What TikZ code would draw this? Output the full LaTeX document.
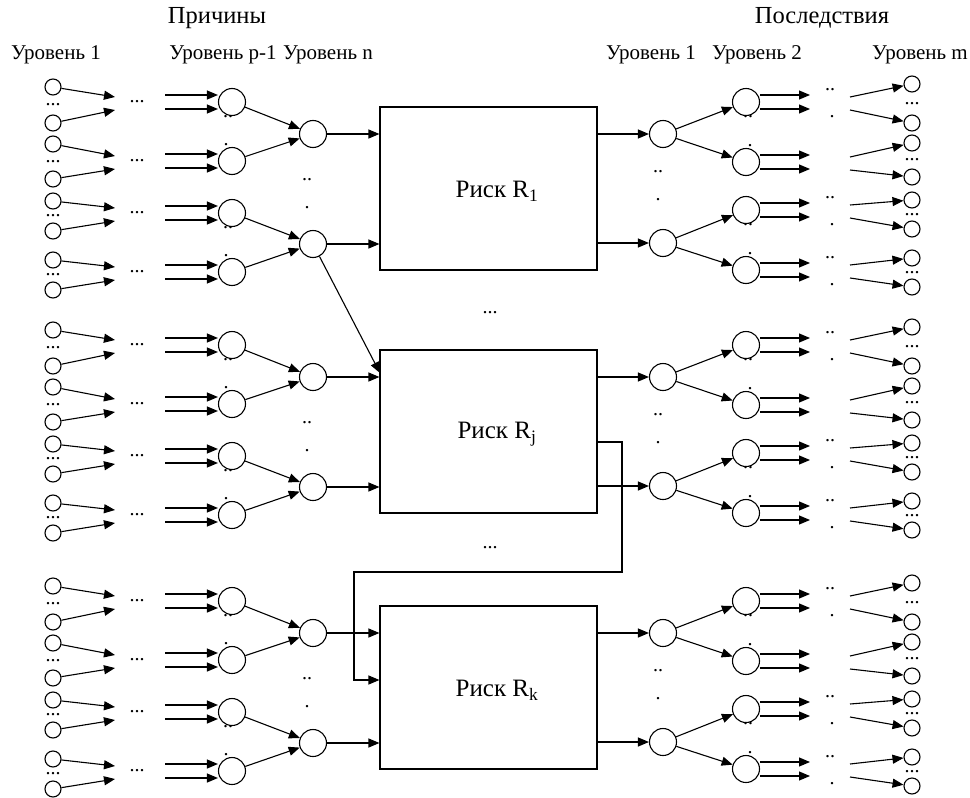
\documentclass[tikz,border=0pt]{standalone}
\usepackage{fontspec}
\setmainfont{Liberation Serif}
\usetikzlibrary{arrows.meta}
\tikzset{
    hub/.style={draw, circle, minimum size=27pt, inner sep=0pt},
    leaf/.style={draw, circle, minimum size=16pt, inner sep=0pt},
    riskbox/.style={draw, rectangle, minimum width=217pt, minimum height=163pt},
    arrow/.style={-{Triangle[length=11pt,width=9pt]}},
    lvl/.style={font=\fontsize{21}{24}\selectfont},
    dotsf/.style={font=\fontsize{20}{24}\selectfont, inner sep=0pt}
}

\begin{document}
\begin{tikzpicture}[x=1pt, y=-1pt, line width=1.1pt]
\useasboundingbox (0,0) rectangle (970,798);

% headings
\node[font=\fontsize{24.5}{28}\selectfont] (causes) at (217,18) {Причины};
\node[font=\fontsize{24.5}{28}\selectfont] (effects) at (822,18) {Последствия};
\node[lvl] (lc1) at (56,55) {Уровень 1};
\node[lvl] (lcp) at (223,55) {Уровень p-1};
\node[lvl] (lcn) at (328,55) {Уровень n};
\node[lvl] (le1) at (651,55) {Уровень 1};
\node[lvl] (le2) at (757,55) {Уровень 2};
\node[lvl] (lem) at (920,55) {Уровень m};

\foreach \g/\r [count=\k] in {0/1, 243/j, 499/k} {
  % risk box
  \node[riskbox] (R\k) at (488.5,188.5+\g) {};
  \node[font=\fontsize{25}{29}\selectfont] (T\k) at (497,191+\g) {Риск R\textsubscript{\r}};

  % causes
  \node[hub] (N\k-1) at (313,134+\g) {};
  \node[hub] (N\k-2) at (313,244+\g) {};
  \node[dotsf] (nd\k-1) at (307,180+\g) {..};
  \node[dotsf] (nd\k-2) at (307,208+\g) {.};
  \foreach \y/\a/\b [count=\i] in {102/87/123, 161/144/179, 213/201/231, 272/260/290} {
    \node[hub] (P\k-\i) at (232,\y+\g) {};
    \node[leaf] (A\k-\i) at (53,\a+\g) {};
    \node[leaf] (B\k-\i) at (53,\b+\g) {};
    \node[dotsf] (ab\k-\i) at (53,\a/2+\b/2+\g) {...};
    \coordinate (a\k-\i) at (115,\y-5+\g);
    \coordinate (b\k-\i) at (115,\y+8+\g);
    \draw[arrow] (A\k-\i) -- (a\k-\i);
    \draw[arrow] (B\k-\i) -- (b\k-\i);
    \node[dotsf] (m\k-\i) at (137,\y+\g) {...};
    \coordinate (c\k-\i) at (165,\y-7+\g);
    \coordinate (d\k-\i) at (165,\y+7+\g);
    \draw[arrow] (c\k-\i) -- (P\k-\i.west |- c\k-\i);
    \draw[arrow] (d\k-\i) -- (P\k-\i.west |- d\k-\i);
  }
  \draw[arrow] (P\k-1) -- (N\k-1);
  \draw[arrow] (P\k-2) -- (N\k-1);
  \draw[arrow] (P\k-3) -- (N\k-2);
  \draw[arrow] (P\k-4) -- (N\k-2);
  \node[dotsf] (pd\k-1) at ([shift={(-4,15)}]P\k-1) {..};
  \node[dotsf] (pd\k-2) at ([shift={(-6,-16)}]P\k-2) {.};
  \node[dotsf] (pd\k-3) at ([shift={(-4,15)}]P\k-3) {..};
  \node[dotsf] (pd\k-4) at ([shift={(-6,-16)}]P\k-4) {.};
  \draw[arrow] (N\k-1) -- (R\k.west |- N\k-1);
  \draw[arrow] (N\k-2) -- (R\k.west |- N\k-2);

  % consequences
  \node[hub] (Q\k-1) at (663,134+\g) {};
  \node[hub] (Q\k-2) at (663,243+\g) {};
  \node[dotsf] (qd\k-1) at (658,172+\g) {..};
  \node[dotsf] (qd\k-2) at (658,200+\g) {.};
  \draw[arrow] (R\k.east |- Q\k-1) -- (Q\k-1);
  \draw[arrow] (R\k.east |- Q\k-2) -- (Q\k-2);
  \foreach \y/\a/\b [count=\i] in {102/84/123, 162/143/177, 210/200/229, 270/258/287} {
    \node[hub] (S\k-\i) at (746,\y+\g) {};
    \node[leaf] (C\k-\i) at (912,\a+\g) {};
    \node[leaf] (D\k-\i) at (912,\b+\g) {};
    \node[dotsf] (cd\k-\i) at (912,\a/2+\b/2+\g) {...};
    \coordinate (e\k-\i) at (810,\y-7+\g);
    \coordinate (f\k-\i) at (810,\y+7+\g);
    \draw[arrow] (S\k-\i.east |- e\k-\i) -- (e\k-\i);
    \draw[arrow] (S\k-\i.east |- f\k-\i) -- (f\k-\i);
    \coordinate (g\k-\i) at (850,\y-5+\g);
    \coordinate (h\k-\i) at (850,\y+8+\g);
    \draw[arrow] (g\k-\i) -- (C\k-\i);
    \draw[arrow] (h\k-\i) -- (D\k-\i);
  }
  \draw[arrow] (Q\k-1) -- (S\k-1);
  \draw[arrow] (Q\k-1) -- (S\k-2);
  \draw[arrow] (Q\k-2) -- (S\k-3);
  \draw[arrow] (Q\k-2) -- (S\k-4);
  \node[dotsf] (sd\k-1) at ([shift={(2,15)}]S\k-1) {..};
  \node[dotsf] (sd\k-2) at ([shift={(4,-16)}]S\k-2) {.};
  \node[dotsf] (sd\k-3) at ([shift={(2,15)}]S\k-3) {..};
  \node[dotsf] (sd\k-4) at ([shift={(4,-16)}]S\k-4) {.};
  \foreach \i in {1,3,4} {
    \node[dotsf] (xa\k-\i) at ([shift={(84,-12)}]S\k-\i) {..};
    \node[dotsf] (xb\k-\i) at ([shift={(86,15)}]S\k-\i) {.};
  }
}

% between the risks
\node[dotsf] (gap1) at (490,313) {...};
\node[dotsf] (gap2) at (490,548) {...};
\coordinate (jin) at (380,373);
\draw[arrow] (N1-2) -- (jin);
\coordinate (jout) at (R2.east |- 0,442);
\coordinate (kin) at (R3.west |- 0,680);
\draw[arrow] (jout) -- (622,442) -- (622,572) -- (354,572) -- (354,680) -- (kin);
\end{tikzpicture}
\end{document}
